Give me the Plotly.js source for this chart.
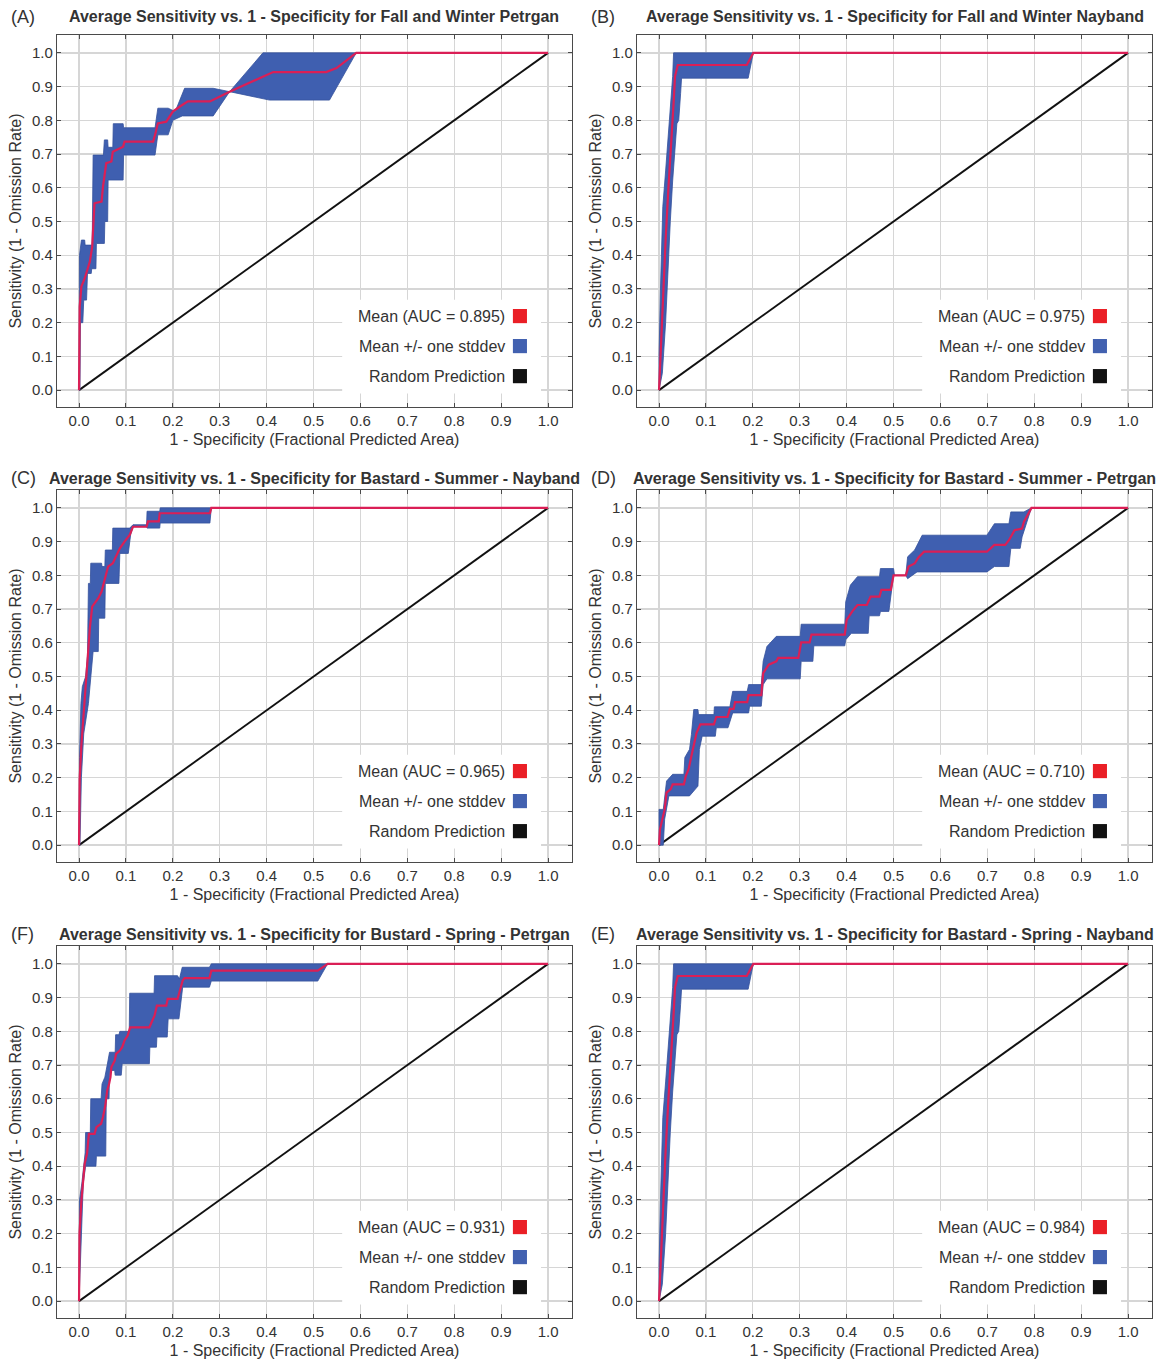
<!DOCTYPE html>
<html>
<head>
<meta charset="utf-8">
<script src="https://cdn.plot.ly/plotly-3.0.1.min.js"></script>
<style>
  html, body { margin: 0; padding: 0; background: #fff; }
  #chart { width: 1160px; height: 1362px; }
</style>
</head>
<body>
<div id="chart"></div>
<script>
// ---------- Data ----------
const panelLabels = ["(A)", "(B)", "(C)", "(D)", "(F)", "(E)"];
const panelTitles = [
  "Average Sensitivity vs. 1 - Specificity for Fall and Winter Petrgan",
  "Average Sensitivity vs. 1 - Specificity for Fall and Winter Nayband",
  "Average Sensitivity vs. 1 - Specificity for Bastard - Summer - Nayband",
  "Average Sensitivity vs. 1 - Specificity for Bastard - Summer - Petrgan",
  "Average Sensitivity vs. 1 - Specificity for Bustard - Spring - Petrgan",
  "Average Sensitivity vs. 1 - Specificity for Bastard - Spring - Nayband"
];
const aucValues = ["0.895", "0.975", "0.965", "0.710", "0.931", "0.984"];
const legendLabels = ["Mean (AUC = {auc})", "Mean +/- one stddev", "Random Prediction"];
const xTitle = "1 - Specificity (Fractional Predicted Area)";
const yTitle = "Sensitivity (1 - Omission Rate)";
const tickVals = [0, 0.1, 0.2, 0.3, 0.4, 0.5, 0.6, 0.7, 0.8, 0.9, 1.0];

const diagX = [0, 1];
const diagY = [0, 1];

// Panel A
const meanA_x = [0,0.0014,0.005,0.012,0.023,0.028,0.031,0.033,0.048,0.051,0.058,0.069,0.072,0.094,0.097,0.158,0.163,0.168,0.186,0.2,0.215,0.232,0.279,0.321,0.414,0.527,0.549,0.591,1.0];
const meanA_y = [0,0.247,0.307,0.331,0.381,0.425,0.504,0.554,0.559,0.603,0.673,0.678,0.707,0.722,0.737,0.737,0.762,0.791,0.796,0.826,0.841,0.856,0.856,0.885,0.943,0.943,0.955,1.0,1.0];
const upA_x = [0,0.001,0.005,0.012,0.013,0.028,0.03,0.052,0.054,0.061,0.062,0.072,0.073,0.094,0.095,0.162,0.168,0.19,0.205,0.225,0.286,0.321,0.392,0.591];
const upA_y = [0,0.40,0.445,0.445,0.43,0.43,0.697,0.697,0.742,0.742,0.72,0.72,0.79,0.79,0.778,0.778,0.836,0.836,0.826,0.895,0.895,0.885,1.0,1.0];
const loA_x = [0,0.002,0.003,0.008,0.01,0.016,0.018,0.026,0.027,0.036,0.037,0.054,0.055,0.061,0.062,0.094,0.095,0.162,0.168,0.19,0.2,0.22,0.286,0.321,0.406,0.534,0.591];
const loA_y = [0,0.0,0.2,0.2,0.267,0.267,0.346,0.346,0.36,0.36,0.435,0.435,0.50,0.50,0.623,0.623,0.697,0.697,0.757,0.757,0.8,0.813,0.813,0.885,0.86,0.86,1.0];

// Panel B
const meanB_x = [0,0.003,0.008,0.014,0.02,0.027,0.031,0.034,0.04,0.187,0.201,1.0];
const meanB_y = [0,0.1,0.28,0.445,0.6,0.742,0.85,0.93,0.964,0.964,1.0,1.0];
const upB_x = [0,0.0,0.003,0.008,0.014,0.019,0.023,0.026,0.029,0.031,0.201];
const upB_y = [0,0.1,0.3,0.544,0.65,0.742,0.8,0.85,0.93,1.0,1.0];
const loB_x = [0,0.007,0.014,0.019,0.024,0.029,0.034,0.038,0.042,0.046,0.048,0.19,0.201];
const loB_y = [0,0.05,0.2,0.35,0.5,0.62,0.72,0.79,0.8,0.88,0.925,0.925,1.0];

// Panel C
const meanC_x = [0,0.0014,0.005,0.0085,0.012,0.019,0.023,0.028,0.041,0.048,0.055,0.062,0.072,0.08,0.087,0.097,0.108,0.115,0.144,0.147,0.17,0.172,0.279,0.282,1.0];
const meanC_y = [0,0.198,0.297,0.366,0.435,0.544,0.643,0.707,0.732,0.752,0.791,0.826,0.836,0.86,0.88,0.90,0.92,0.944,0.944,0.96,0.96,0.984,0.984,1.0,1.0];
const upC_x = [0,0.001,0.004,0.007,0.014,0.018,0.02,0.024,0.025,0.048,0.049,0.055,0.056,0.071,0.072,0.108,0.115,0.144,0.145,0.172,0.173,0.282];
const upC_y = [0,0.26,0.42,0.47,0.5,0.56,0.776,0.776,0.836,0.836,0.826,0.826,0.875,0.875,0.94,0.94,0.95,0.95,0.99,0.99,1.0,1.0];
const loC_x = [0,0.002,0.005,0.01,0.02,0.025,0.03,0.041,0.042,0.055,0.056,0.085,0.087,0.105,0.11,0.115,0.144,0.145,0.172,0.173,0.279,0.282];
const loC_y = [0,0.0,0.2,0.33,0.42,0.5,0.574,0.574,0.673,0.673,0.776,0.776,0.865,0.865,0.92,0.944,0.944,0.94,0.94,0.955,0.955,1.0];

// Panel D
const meanD_x = [0,0.002,0.007,0.012,0.016,0.025,0.029,0.053,0.057,0.063,0.069,0.076,0.08,0.088,0.117,0.122,0.146,0.151,0.159,0.162,0.188,0.191,0.218,0.222,0.234,0.25,0.254,0.297,0.303,0.321,0.325,0.396,0.4,0.412,0.423,0.443,0.451,0.47,0.474,0.494,0.5,0.526,0.532,0.545,0.553,0.565,0.699,0.715,0.738,0.746,0.758,0.774,0.778,0.794,1.0];
const meanD_y = [0,0.047,0.077,0.106,0.156,0.166,0.18,0.18,0.205,0.225,0.264,0.303,0.333,0.358,0.358,0.38,0.38,0.404,0.404,0.424,0.424,0.445,0.445,0.51,0.535,0.545,0.555,0.555,0.601,0.601,0.624,0.624,0.668,0.693,0.712,0.712,0.737,0.737,0.757,0.757,0.8,0.8,0.826,0.835,0.853,0.87,0.87,0.89,0.89,0.904,0.934,0.939,0.959,1.0,1.0];
const upD_x = [0,0,0.009,0.016,0.029,0.053,0.055,0.065,0.069,0.074,0.083,0.084,0.117,0.118,0.151,0.157,0.188,0.191,0.218,0.222,0.23,0.25,0.301,0.303,0.396,0.398,0.408,0.423,0.47,0.472,0.5,0.502,0.526,0.53,0.545,0.561,0.699,0.715,0.746,0.75,0.778,0.794];
const upD_y = [0,0.106,0.106,0.19,0.21,0.21,0.26,0.284,0.328,0.402,0.402,0.387,0.387,0.41,0.41,0.456,0.456,0.476,0.476,0.545,0.589,0.619,0.619,0.655,0.655,0.722,0.771,0.796,0.796,0.82,0.82,0.8,0.8,0.855,0.875,0.919,0.919,0.953,0.953,0.988,0.988,1.0];
const loD_x = [0,0.009,0.012,0.021,0.065,0.083,0.086,0.092,0.12,0.122,0.147,0.157,0.191,0.193,0.218,0.222,0.23,0.301,0.303,0.328,0.33,0.396,0.398,0.41,0.446,0.448,0.47,0.472,0.49,0.5,0.526,0.53,0.55,0.699,0.715,0.746,0.75,0.77,0.774,0.794];
const loD_y = [0,0,0.077,0.146,0.146,0.175,0.284,0.323,0.323,0.348,0.348,0.392,0.392,0.412,0.412,0.476,0.493,0.493,0.545,0.545,0.591,0.591,0.609,0.628,0.628,0.68,0.68,0.693,0.693,0.8,0.8,0.79,0.81,0.81,0.826,0.826,0.88,0.88,0.914,1.0];

// Panel F
const meanF_x = [0,0.001,0.005,0.0085,0.012,0.017,0.021,0.033,0.037,0.047,0.051,0.056,0.06,0.064,0.067,0.069,0.076,0.079,0.087,0.092,0.097,0.104,0.109,0.15,0.161,0.166,0.186,0.189,0.21,0.221,0.225,0.278,0.282,0.509,0.53,1.0];
const meanF_y = [0,0.2,0.298,0.348,0.407,0.437,0.496,0.496,0.516,0.526,0.546,0.58,0.625,0.644,0.664,0.694,0.713,0.733,0.743,0.753,0.773,0.788,0.812,0.812,0.847,0.876,0.876,0.896,0.896,0.951,0.958,0.958,0.98,0.98,1.0,1.0];
const upF_x = [0,0.001,0.006,0.01,0.013,0.014,0.024,0.025,0.047,0.049,0.055,0.06,0.065,0.077,0.078,0.085,0.087,0.107,0.108,0.16,0.161,0.21,0.214,0.22,0.278,0.282,0.53];
const upF_y = [0,0.3,0.35,0.41,0.44,0.5,0.5,0.6,0.6,0.644,0.664,0.7,0.738,0.738,0.79,0.79,0.8,0.8,0.913,0.913,0.965,0.965,0.955,0.99,0.99,1.0,1.0];
const loF_x = [0,0.002,0.005,0.009,0.014,0.036,0.037,0.057,0.058,0.064,0.065,0.076,0.077,0.09,0.092,0.15,0.151,0.165,0.166,0.188,0.19,0.213,0.221,0.278,0.282,0.509,0.53];
const loF_y = [0,0.05,0.2,0.35,0.4,0.4,0.43,0.43,0.6,0.6,0.684,0.684,0.67,0.67,0.704,0.704,0.753,0.753,0.783,0.783,0.837,0.837,0.931,0.931,0.949,0.949,1.0];

// Panel E
const meanE_x = [0,0.003,0.008,0.014,0.02,0.027,0.031,0.034,0.04,0.187,0.201,1.0];
const meanE_y = [0,0.1,0.28,0.445,0.6,0.742,0.85,0.93,0.964,0.964,1.0,1.0];
const upE_x = [0,0.0,0.003,0.008,0.014,0.019,0.023,0.026,0.029,0.031,0.201];
const upE_y = [0,0.1,0.3,0.544,0.65,0.742,0.8,0.85,0.93,1.0,1.0];
const loE_x = [0,0.007,0.014,0.019,0.024,0.029,0.034,0.038,0.042,0.046,0.048,0.19,0.201];
const loE_y = [0,0.05,0.2,0.35,0.5,0.62,0.72,0.79,0.8,0.88,0.925,0.925,1.0];

// ---------- Build figure ----------
const panels = [
  {mx: meanA_x, my: meanA_y, ux: upA_x, uy: upA_y, lx: loA_x, ly: loA_y},
  {mx: meanB_x, my: meanB_y, ux: upB_x, uy: upB_y, lx: loB_x, ly: loB_y},
  {mx: meanC_x, my: meanC_y, ux: upC_x, uy: upC_y, lx: loC_x, ly: loC_y},
  {mx: meanD_x, my: meanD_y, ux: upD_x, uy: upD_y, lx: loD_x, ly: loD_y},
  {mx: meanF_x, my: meanF_y, ux: upF_x, uy: upF_y, lx: loF_x, ly: loF_y},
  {mx: meanE_x, my: meanE_y, ux: upE_x, uy: upE_y, lx: loE_x, ly: loE_y}
];

const W = 1160, H = 1362;
const FONT = "Liberation Sans, Arial, Helvetica, sans-serif";
const colLeft = [[57, 572], [637, 1152]];
const rowTop = [[35, 407], [490, 862], [946, 1318]];
const titleY = [17, 478, 934];

const RED = "#da1f56", BLUE = "#3f5fb0", BLACK = "#111111";
const SW_RED = "#ea1f26", SW_BLUE = "#4261b0", SW_BLACK = "#111111";

const data = [];
const layout = {
  width: W, height: H,
  margin: {l: 0, r: 0, t: 0, b: 0, pad: 0},
  paper_bgcolor: "#ffffff", plot_bgcolor: "#ffffff",
  showlegend: false,
  font: {family: FONT, color: "#333333", size: 15},
  annotations: [], shapes: []
};

panels.forEach((p, i) => {
  const r = Math.floor(i / 2), c = i % 2;
  const n = i + 1;
  const xa = n === 1 ? "x" : "x" + n;
  const ya = n === 1 ? "y" : "y" + n;
  const xk = n === 1 ? "xaxis" : "xaxis" + n;
  const yk = n === 1 ? "yaxis" : "yaxis" + n;
  const [x0, x1] = colLeft[c];
  const [t0, t1] = rowTop[r];

  const common = {
    range: [-0.047, 1.051],
    tickvals: tickVals,
    tickformat: ".1f",
    showgrid: true, gridcolor: "#d6d6d6", gridwidth: 1.3,
    zeroline: false,
    showline: true, linecolor: "#4a4a4a", linewidth: 1.2, mirror: "ticks",
    ticks: "inside", ticklen: 4, tickcolor: "#4a4a4a", tickwidth: 1,
    tickfont: {family: FONT, size: 15, color: "#333333"},
    fixedrange: true
  };
  layout[xk] = Object.assign({}, common, {
    domain: [x0 / W, x1 / W], anchor: ya,
    title: {text: xTitle, font: {family: FONT, size: 16, color: "#333333"}, standoff: 5}
  });
  layout[yk] = Object.assign({}, common, {
    range: [-0.05, 1.053],
    domain: [1 - t1 / H, 1 - t0 / H], anchor: xa,
    title: {text: yTitle, font: {family: FONT, size: 16, color: "#333333"}, standoff: 6}
  });

  // diagonal (random prediction)
  data.push({x: diagX, y: diagY, xaxis: xa, yaxis: ya, mode: "lines",
    line: {color: BLACK, width: 1.9}, hoverinfo: "skip"});
  // +/- stddev band
  const bx = p.ux.concat(p.lx.slice().reverse());
  const by = p.uy.concat(p.ly.slice().reverse());
  data.push({x: bx, y: by, xaxis: xa, yaxis: ya, mode: "lines", fill: "toself",
    fillcolor: BLUE, line: {color: "#34509c", width: 0.8}, hoverinfo: "skip"});
  // mean
  data.push({x: p.mx, y: p.my, xaxis: xa, yaxis: ya, mode: "lines",
    line: {color: RED, width: 2.2}, hoverinfo: "skip"});

  // title and panel label
  layout.annotations.push({
    xref: "paper", yref: "paper", x: ((x0 + x1) / 2) / W, y: 1 - titleY[r] / H,
    xanchor: "center", yanchor: "middle", showarrow: false,
    text: "<b>" + panelTitles[i] + "</b>",
    font: {family: FONT, size: 16, color: "#333333"}
  });
  layout.annotations.push({
    xref: "paper", yref: "paper", x: (x0 - 48) / W, y: 1 - titleY[r] / H,
    xanchor: "left", yanchor: "middle", showarrow: false,
    text: panelLabels[i],
    font: {family: FONT, size: 18, color: "#333333"}
  });

  // legend box (white, covers grid)
  layout.shapes.push({type: "rect", xref: xa, yref: ya, x0: 0.561, x1: 0.985, y0: -0.01, y1: 0.268,
    fillcolor: "#ffffff", line: {width: 0}, layer: "above"});
  const legY = [0.2196, 0.1306, 0.0415];
  const swatch = [SW_RED, SW_BLUE, SW_BLACK];
  legendLabels.forEach((lab, k) => {
    layout.annotations.push({
      xref: xa, yref: ya, x: 0.9126, y: legY[k], xanchor: "right", yanchor: "middle",
      showarrow: false, text: lab.replace("{auc}", aucValues[i]),
      font: {family: FONT, size: 16, color: "#333333"}
    });
    layout.shapes.push({type: "rect", xref: xa, yref: ya, x0: 0.925, x1: 0.955,
      y0: legY[k] - 0.021, y1: legY[k] + 0.021, fillcolor: swatch[k], line: {width: 0}, layer: "above"});
  });
});

Plotly.newPlot("chart", data, layout, {displayModeBar: false, staticPlot: true});
</script>
</body>
</html>
